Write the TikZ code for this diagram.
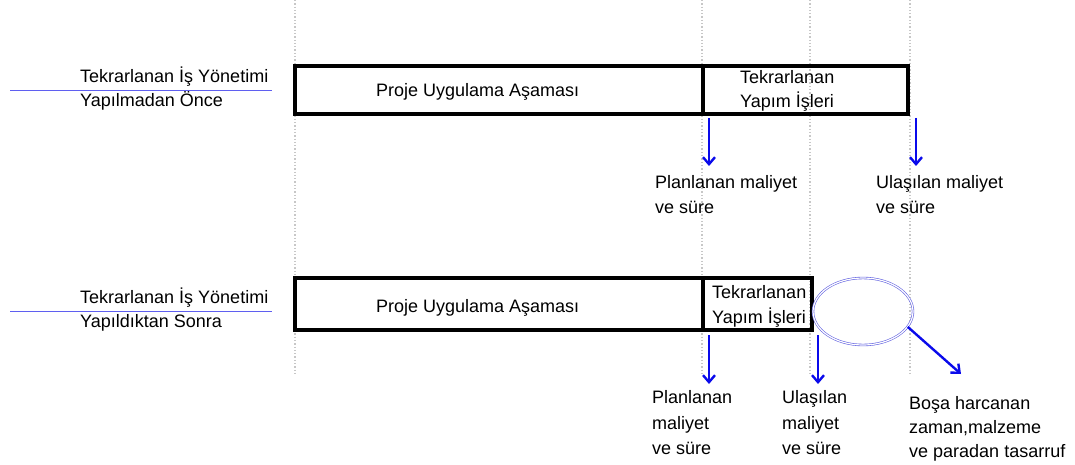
\documentclass[tikz,border=0pt]{standalone}
\usepackage{fontspec}
\setmainfont{Liberation Sans}
\usetikzlibrary{arrows.meta,shapes.geometric}
\definecolor{ulinecol}{RGB}{95,95,240}
\definecolor{ellcol}{RGB}{100,100,225}
\definecolor{arrcol}{RGB}{10,10,235}
\begin{document}
\begin{tikzpicture}[x=1pt,y=-1pt,
  txt/.style={font=\fontsize{18}{24}\selectfont, anchor=base west, inner sep=0pt},
  boxpart/.style={draw=black, line width=3.6pt, inner sep=0pt},
  guide/.style={draw=black!22, dotted, line width=1.3pt},
  arr/.style={draw=arrcol, line width=2.4pt, -{Straight Barb[length=7pt,width=12pt]}},
  uline/.style={draw=ulinecol, line width=1.4pt}]
\useasboundingbox (0,0) rectangle (1075,465);
% guide lines
\foreach \gx/\gn in {295/ga,702/gb,810/gc,910/gd}{
  \coordinate (\gn1) at (\gx,0);
  \coordinate (\gn2) at (\gx,373);
  \draw[guide] (\gn1) -- (\gn2);
}
% ---------- row 1 ----------
\node[txt] (l1a) at (80,83) {Tekrarlanan İş Yönetimi};
\node[txt] (l1b) at (80,107) {Yapılmadan Önce};
\coordinate (u1a) at (10,90.5);
\coordinate (u1b) at (272,90.5);
\draw[uline] (u1a) -- (u1b);
\node[boxpart, minimum width=408pt, minimum height=48pt] (p1) at (499,90) {};
\node[boxpart, minimum width=205pt, minimum height=48pt] (t1) at (805.5,90) {};
\node[txt] (p1t) at (376,97) {Proje Uygulama Aşaması};
\node[txt] (t1a) at (740,84) {Tekrarlanan};
\node[txt] (t1b) at (740,108) {Yapım İşleri};
\node[txt] (pl1a) at (655,188) {Planlanan maliyet};
\node[txt] (pl1b) at (655,213) {ve süre};
\node[txt] (ul1a) at (876,188) {Ulaşılan maliyet};
\node[txt] (ul1b) at (876,213) {ve süre};
\coordinate (a1s) at (709,118); \coordinate (a1e) at (709,166);
\coordinate (a2s) at (916,118); \coordinate (a2e) at (916,166);
\draw[arr] (a1s) -- (a1e);
\draw[arr] (a2s) -- (a2e);
% ---------- row 2 ----------
\node[txt] (l2a) at (80,303) {Tekrarlanan İş Yönetimi};
\node[txt] (l2b) at (80,327) {Yapıldıktan Sonra};
\coordinate (u2a) at (10,311.5);
\coordinate (u2b) at (272,311.5);
\draw[uline] (u2a) -- (u2b);
\node[boxpart, minimum width=408pt, minimum height=52pt] (p2) at (499,304) {};
\node[boxpart, minimum width=109pt, minimum height=52pt] (t2) at (757.5,304) {};
\node[txt] (p2t) at (376,312) {Proje Uygulama Aşaması};
\node[txt] (t2a) at (712,298) {Tekrarlanan};
\node[txt] (t2b) at (712,323) {Yapım İşleri};
\node[draw=ellcol, double, line width=0.6pt, double distance=1.2pt, ellipse,
      minimum width=100pt, minimum height=67pt, inner sep=0pt] (ell) at (863,311.5) {};
\node[txt] (pl2a) at (652,403) {Planlanan};
\node[txt] (pl2b) at (652,429) {maliyet};
\node[txt] (pl2c) at (652,454) {ve süre};
\node[txt] (ul2a) at (782,403) {Ulaşılan};
\node[txt] (ul2b) at (782,429) {maliyet};
\node[txt] (ul2c) at (782,454) {ve süre};
\node[txt] (bo1) at (909,409) {Boşa harcanan};
\node[txt] (bo2) at (909,433) {zaman,malzeme};
\node[txt] (bo3) at (909,457) {ve paradan tasarruf};
\coordinate (a3s) at (709,335); \coordinate (a3e) at (709,384);
\coordinate (a4s) at (818,335); \coordinate (a4e) at (818,384);
\coordinate (a5e) at (961,374);
\draw[arr] (a3s) -- (a3e);
\draw[arr] (a4s) -- (a4e);
\draw[arr] (ell.-19) -- (a5e);
\end{tikzpicture}
\end{document}
